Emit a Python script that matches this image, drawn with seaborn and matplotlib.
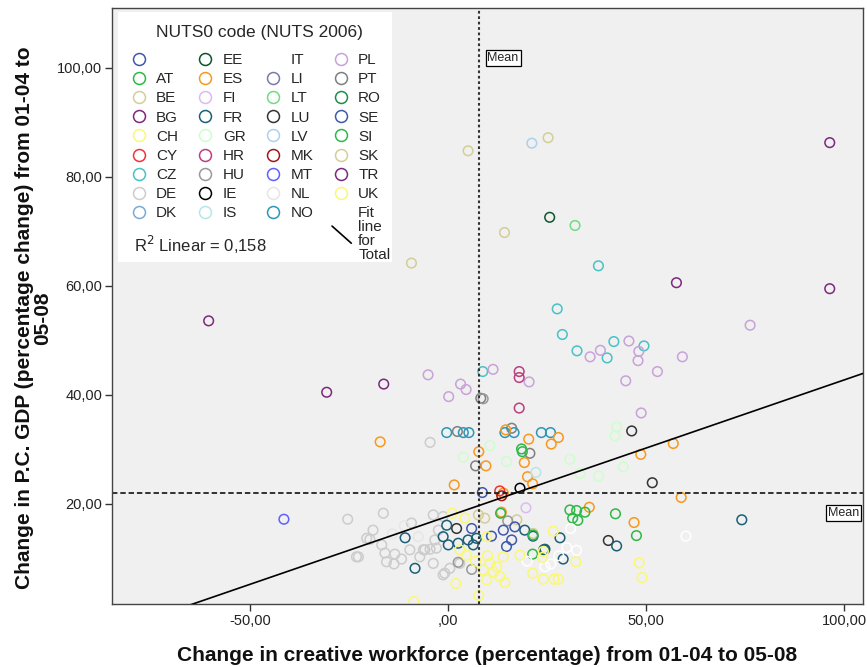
import numpy as np
import pandas as pd
import seaborn as sns
import matplotlib.pyplot as plt
from matplotlib.lines import Line2D
from matplotlib.patches import Rectangle
from matplotlib.ticker import FuncFormatter
from matplotlib.legend_handler import HandlerLine2D

# legend order of the NUTS0 codes ("" is the unnamed first category)
codes = ["", "AT", "BE", "BG", "CH", "CY", "CZ", "DE", "DK",
         "EE", "ES", "FI", "FR", "GR", "HR", "HU", "IE", "IS",
         "IT", "LI", "LT", "LU", "LV", "MK", "MT", "NL", "NO",
         "PL", "PT", "RO", "SE", "SI", "SK", "TR", "UK"]
code_colors = ["#3E58AC", "#2EB848", "#D3CE97", "#7C287D", "#FBF873", "#EF3338", "#48C2C5", "#CCCCCC", "#7AAAD5",
               "#0A562C", "#F8981D", "#DDBAF1", "#1A5F76", "#CCFFCC", "#BB3F7F", "#999999", "#000000", "#B6E7E8",
               "#FFFFFF", "#797AA7", "#70DC84", "#333333", "#ACD0EE", "#A21619", "#5D61FF", "#E6E6E6", "#2D96B8",
               "#C8A2D8", "#7F7F7F", "#1E8C4E", "#3E58AC", "#2EB848", "#D3CE97", "#7C287D", "#FBF873"]

# regions: (change in creative workforce, change in p.c. GDP)
bg_pts = [(-60.4, 53.6), (-30.6, 40.5), (-16.2, 42.0)]
tr_pts = [(96.4, 86.3), (96.4, 59.5), (57.7, 60.6)]
be_pts = [(5.1, 84.8), (25.3, 87.2), (14.3, 69.8), (-9.2, 64.2)]
sk_pts = [(9.3, 17.4), (17.4, 17.1), (21.5, 14.6), (7.7, 18.0)]
lv_pts = [(21.2, 86.2)]
ee_pts = [(25.7, 72.6)]
lt_pts = [(32.1, 71.1)]
cz_pts = [(38.0, 63.7), (27.6, 55.8), (28.9, 51.1), (41.9, 49.8), (49.5, 49.0),
          (32.6, 48.1), (40.2, 46.8), (8.8, 44.3)]
pl_pts = [(76.3, 52.8), (45.7, 49.9), (38.5, 48.2), (35.9, 47.0), (48.2, 48.0), (48.0, 46.3),
          (59.2, 47.0), (52.9, 44.3), (44.9, 42.6), (48.8, 36.7), (-5.0, 43.7), (3.2, 42.0),
          (4.6, 41.0), (0.2, 39.7), (11.4, 44.7), (20.5, 42.4)]
fi_pts = [(19.7, 19.3)]
hr_pts = [(18.0, 44.3), (18.0, 43.2), (18.0, 37.6)]
pt_pts = [(8.3, 39.4), (2.4, 33.3), (16.1, 33.9), (20.7, 29.3), (7.0, 27.0)]
no_pts = [(-0.3, 33.1), (3.9, 33.1), (5.3, 33.1), (14.4, 33.1), (16.7, 33.1), (23.6, 33.1), (25.9, 33.1)]
es_pts = [(14.6, 33.6), (20.4, 31.9), (27.9, 32.2), (26.1, 31.0), (7.8, 29.6), (19.3, 27.6),
          (9.6, 27.0), (20.1, 25.0), (21.4, 23.7), (1.6, 23.5), (56.9, 31.1), (48.7, 29.1),
          (58.9, 21.2), (35.7, 19.4), (47.0, 16.6), (-17.1, 31.4), (14.0, 22.0), (13.5, 18.5)]
gr_pts = [(10.6, 30.7), (3.9, 28.6), (14.8, 27.8), (30.8, 28.2), (38.0, 25.1), (33.3, 25.6),
          (42.6, 34.1), (42.2, 32.5), (44.3, 26.8)]
is_pts = [(22.2, 25.8)]
de_pts = [(-4.5, 31.3), (-25.3, 17.2), (-20.5, 13.7), (-18.9, 15.2), (-16.7, 12.5), (-15.9, 11.0),
          (-13.4, 10.8), (-11.7, 9.9), (-15.5, 9.4), (-13.6, 9.0), (-23.1, 10.3), (-16.3, 18.3),
          (-9.2, 16.5), (-6.2, 11.6), (-4.5, 11.7), (-7.1, 10.3), (-3.7, 9.1), (-1.2, 7.0),
          (0.5, 8.2), (-3.7, 18.0), (-1.2, 17.7), (-2.4, 15.2), (-3.3, 13.4), (-9.6, 11.6),
          (-5.8, 11.6), (-0.8, 7.3), (3.0, 9.1), (-2.9, 11.9), (-19.7, 13.5), (-22.6, 10.3)]
nl_pts = [(-14.0, 14.5), (-7.5, 14.0), (-11.0, 16.0)]
hu_pts = [(8.9, 39.3), (2.6, 9.3), (15.1, 16.9), (6.0, 8.0)]
lu_pts = [(46.4, 33.4), (51.6, 23.9), (40.5, 13.3), (2.2, 15.5)]
cy_pts = [(13.1, 22.4)]
ie_pts = [(18.2, 22.9)]
mk_pts = [(13.6, 21.5)]
se_pts = [(8.7, 22.1), (6.0, 15.5), (11.0, 14.1), (14.0, 15.2), (14.8, 12.2), (16.9, 15.8), (16.1, 13.4)]
mt_pts = [(-41.4, 17.2)]
fr_pts = [(74.2, 17.1), (42.6, 12.3), (28.3, 13.8), (24.2, 11.6), (29.1, 9.9), (-10.8, 13.8),
          (-8.3, 8.2), (-1.2, 14.0), (0.1, 12.5), (-0.3, 16.1), (2.6, 12.8), (5.1, 13.4),
          (7.2, 13.7), (6.4, 12.5), (19.4, 15.2), (21.5, 14.1), (24.5, 11.7)]
si_pts = [(30.8, 18.9), (32.5, 18.8), (31.5, 17.4), (32.8, 17.0), (34.6, 18.5), (42.3, 18.2), (47.6, 14.2)]
at_pts = [(18.6, 30.1), (18.8, 29.6), (21.5, 14.3), (21.4, 10.8), (13.3, 18.3)]
it_pts = [(60.1, 14.1), (31.0, 15.5), (30.0, 12.0), (32.5, 11.5), (28.0, 10.5), (26.0, 9.0),
          (20.0, 9.5), (24.5, 8.5)]
ch_pts = [(48.3, 9.2), (49.0, 6.5), (21.4, 7.3), (24.1, 6.2), (26.8, 6.2), (27.9, 6.2), (2.0, 5.4),
          (7.8, 3.2), (-8.6, 2.1), (26.6, 15.0), (32.3, 9.4), (23.9, 10.2)]
uk_pts = [(1.1, 18.3), (4.3, 17.4), (3.0, 11.6), (4.7, 10.6), (9.8, 14.0), (10.6, 9.1), (8.9, 7.9),
          (12.3, 8.5), (13.1, 6.7), (9.8, 6.1), (14.4, 5.6), (14.0, 10.3), (18.2, 10.6), (24.1, 11.3),
          (11.5, 7.5), (10.0, 10.5), (7.0, 9.5)]

# reference lines and linear fit as printed by the chart
mean_x = 7.9
mean_y = 22.0
fit_intercept = 17.75
fit_slope = 0.25
r2_text = "R$^2$ Linear = 0,158"

groups = {"BG": bg_pts, "TR": tr_pts, "BE": be_pts, "SK": sk_pts, "LV": lv_pts, "EE": ee_pts,
          "LT": lt_pts, "CZ": cz_pts, "PL": pl_pts, "FI": fi_pts, "HR": hr_pts, "PT": pt_pts,
          "NO": no_pts, "ES": es_pts, "GR": gr_pts, "IS": is_pts, "DE": de_pts, "NL": nl_pts,
          "HU": hu_pts, "LU": lu_pts, "CY": cy_pts, "IE": ie_pts, "MK": mk_pts, "SE": se_pts,
          "MT": mt_pts, "FR": fr_pts, "SI": si_pts, "AT": at_pts, "IT": it_pts, "CH": ch_pts,
          "UK": uk_pts}
rows = []
for code, pts in groups.items():
    for x, y in pts:
        rows.append({"code": code, "workforce": x, "gdp": y})
df = pd.DataFrame(rows)
palette = dict(zip(codes, code_colors))

sns.set_theme(style="ticks")
plt.rcParams['font.family'] = ['Liberation Sans', 'DejaVu Sans']

fig = plt.figure(figsize=(8.67, 6.67), dpi=100)
ax = fig.add_axes([112 / 867, 1 - 604 / 667, 751 / 867, 596 / 667])
ax.set_facecolor("#F0F0F0")

sns.scatterplot(data=df, x="workforce", y="gdp", hue="code", palette=palette,
                s=48, linewidth=1.1, legend=False, ax=ax)
# open circles: move the hue colours onto the edges
pts = ax.collections[0]
pts.set_edgecolors(pts.get_facecolors())
pts.set_facecolors("none")

ax.set_xlim(-84.8, 104.8)
ax.set_ylim(1.65, 111.0)

# mean reference lines
ax.axvline(mean_x, color="#333333", lw=1.5, ls=(0, (1.3, 1.3)), zorder=1)
ax.axhline(mean_y, color="#222222", lw=1.3, ls=(0, (3, 1.6)), zorder=1)
box = dict(boxstyle="square,pad=0.15", fc="white", ec="black", lw=0.9)
ax.text(10.0, 101.8, "Mean", fontsize=9, va="center", ha="left", bbox=box)
ax.text(103.8, 18.3, "Mean", fontsize=9, va="center", ha="right", bbox=box)

# fit line for total
xs = np.array(ax.get_xlim())
ax.plot(xs, fit_intercept + fit_slope * xs, color="black", lw=1.2, zorder=3)


def comma(v, p):
    s = f"{v:.2f}".replace(".", ",")
    return ",00" if abs(v) < 1e-9 else s


ax.xaxis.set_major_formatter(FuncFormatter(comma))
ax.yaxis.set_major_formatter(FuncFormatter(comma))
ax.set_xticks([-50, 0, 50, 100])
ax.set_yticks([20, 40, 60, 80, 100])
ax.tick_params(length=5, width=1, color="#333333", labelsize=10.5, pad=2, labelcolor="#222222")
for sp in ax.spines.values():
    sp.set_color("#444444")
    sp.set_linewidth(1)
    sp.set_visible(True)

ax.set_xlabel("Change in creative workforce (percentage) from 01-04 to 05-08",
              fontsize=15, fontweight="bold", color="#111111")
ax.set_ylabel("Change in P.C. GDP (percentage change) from 01-04 to\n05-08",
              fontsize=15, fontweight="bold", color="#111111", linespacing=0.95)
ax.xaxis.set_label_coords(0.5, -0.071)
ax.yaxis.set_label_coords(-0.08, 0.48)


class DiagHandler(HandlerLine2D):
    def create_artists(self, legend, orig_handle, xdescent, ydescent, width, height, fontsize, trans):
        line = Line2D([-xdescent + 0.1 * width, -xdescent + width], [-ydescent + 1.3 * height, -ydescent - 0.3 * height],
                      color="black", lw=1.2, transform=trans)
        return [line]


# white legend panel (the legend itself is drawn without a frame)
ax.add_patch(Rectangle((0.008, 0.574), 0.365, 0.419, transform=ax.transAxes,
                       fc="white", ec="none", zorder=4))

handles = [Line2D([], [], ls="", marker="o", ms=8.6, mfc="none", mec=c, mew=1.1) for c in code_colors]
labels = list(codes)
fit_handle = Line2D([], [], color="black")
handles.append(fit_handle)
labels.append("Fit\nline\nfor\nTotal")
leg = ax.legend(handles, labels, ncol=4, loc="upper left", bbox_to_anchor=(0.006, 0.99),
                borderaxespad=0, title="NUTS0 code (NUTS 2006)", title_fontsize=12.5, fontsize=11,
                frameon=False, labelspacing=0.34, columnspacing=1.08, handletextpad=0.45,
                handlelength=1.4, borderpad=0.75, handler_map={fit_handle: DiagHandler()})
leg._legend_box.sep = 9
leg.get_texts()[-1].set_linespacing(1.0)
ax.text(0.029, 0.602, r2_text, transform=ax.transAxes, fontsize=12, va="center", ha="left", zorder=6)

fig.savefig("out.png", dpi=100)
